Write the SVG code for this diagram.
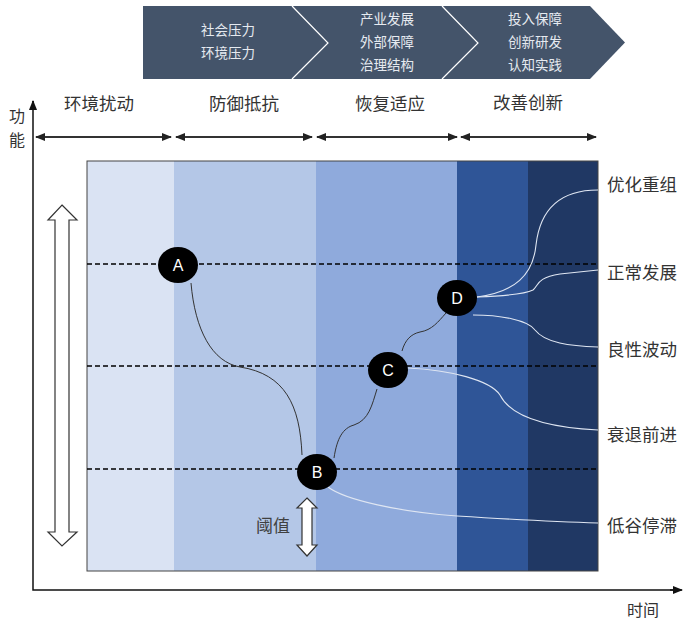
<svg xmlns="http://www.w3.org/2000/svg" width="687" height="621" viewBox="0 0 687 621">
<style>
.cjk{font-family:"Noto Sans CJK SC","Noto Sans",sans-serif}
.ban{fill:#e6eaf0;font-size:13.5px;text-anchor:middle}
.ph{fill:#333;font-size:17.5px;text-anchor:middle}
.rl{fill:#333;font-size:17.5px}
.dash{stroke:#000;stroke-width:1.3;stroke-dasharray:5 3;fill:none}
.bk{stroke:#333;stroke-width:1;fill:none}
.wh{stroke:#dfe6f2;stroke-width:1.1;fill:none}
.node ellipse{fill:#000}
.node text{fill:#fff;font-family:"Liberation Sans",Arial,sans-serif;font-size:16px;text-anchor:middle}
.seg{stroke:#333;stroke-width:2;fill:none}
</style>
<defs>
<marker id="ah" viewBox="0 0 10 10" refX="9" refY="5" markerWidth="5" markerHeight="5" orient="auto-start-reverse"><path d="M0,1 L10,5 L0,9 z" fill="#222"/></marker>
<marker id="ax" viewBox="0 0 10 10" refX="9" refY="5" markerWidth="7" markerHeight="7" orient="auto"><path d="M0,1 L10,5 L0,9 z" fill="#111"/></marker>
</defs>
<rect width="687" height="621" fill="#fff"/>
<g id="banner">
<polygon points="143,6 590,6 625,42.5 590,79 143,79" fill="#44546a"/>
<polyline points="292,6 328,43 292,79" fill="none" stroke="#fff" stroke-width="1.2"/>
<polyline points="442,6 478,43 442,79" fill="none" stroke="#fff" stroke-width="1.2"/>
<text class="cjk ban" x="228" y="35">社会压力</text>
<text class="cjk ban" x="228" y="58">环境压力</text>
<text class="cjk ban" x="387" y="24">产业发展</text>
<text class="cjk ban" x="387" y="47">外部保障</text>
<text class="cjk ban" x="387" y="70">治理结构</text>
<text class="cjk ban" x="535" y="24">投入保障</text>
<text class="cjk ban" x="535" y="47">创新研发</text>
<text class="cjk ban" x="535" y="70">认知实践</text>
</g>
<g id="phases">
<text class="cjk ph" x="99" y="110">环境扰动</text>
<text class="cjk ph" x="244" y="110">防御抵抗</text>
<text class="cjk ph" x="390" y="110">恢复适应</text>
<text class="cjk ph" x="528" y="109">改善创新</text>
<line class="seg" x1="36" y1="137" x2="171" y2="137" marker-start="url(#ah)" marker-end="url(#ah)"/>
<line class="seg" x1="176" y1="137" x2="312" y2="137" marker-start="url(#ah)" marker-end="url(#ah)"/>
<line class="seg" x1="317" y1="137" x2="457" y2="137" marker-start="url(#ah)" marker-end="url(#ah)"/>
<line class="seg" x1="461" y1="137" x2="596" y2="137" marker-start="url(#ah)" marker-end="url(#ah)"/>
</g>
<g id="plot">
<rect x="87" y="161" width="87" height="410" fill="#dae3f3"/>
<rect x="174" y="161" width="142" height="410" fill="#b4c7e7"/>
<rect x="316" y="161" width="141" height="410" fill="#8faadc"/>
<rect x="457" y="161" width="71" height="410" fill="#2f5597"/>
<rect x="528" y="161" width="70" height="410" fill="#203864"/>
<rect x="87" y="161" width="511" height="410" fill="none" stroke="#444" stroke-width="1"/>
<line class="dash" x1="87" y1="264" x2="598" y2="264"/>
<line class="dash" x1="87" y1="366" x2="598" y2="366"/>
<line class="dash" x1="87" y1="469" x2="598" y2="469"/>
</g>
<g id="axes">
<polyline points="33,101 33,590 681,590" fill="none" stroke="#111" stroke-width="1.5"/>
<line x1="33" y1="110" x2="33" y2="101" stroke="#111" stroke-width="1.5" marker-end="url(#ax)"/>
<line x1="670" y1="590" x2="682" y2="590" stroke="#111" stroke-width="1.5" marker-end="url(#ax)"/>
<text class="cjk" x="9" y="122" font-size="16" fill="#333">功</text>
<text class="cjk" x="9" y="146" font-size="16" fill="#333">能</text>
<text class="cjk" x="627" y="616" font-size="16" fill="#333">时间</text>
</g>
<g id="big-arrow">
<polygon points="62,205 77,220 69,220 69,532 77,532 62,546 48,532 55,532 55,220 48,220" fill="#fff" stroke="#333" stroke-width="1.2"/>
</g>
<g id="threshold">
<polygon points="307,498 317,508 312,508 312,545 317,545 307,556 297,545 302,545 302,508 297,508" fill="#fff" stroke="#333" stroke-width="1.2"/>
<text class="cjk" x="256" y="532" font-size="17" fill="#404040">阈值</text>
</g>
<g id="connectors">
<path class="bk" d="M191,283 C195,330 212,362 240,367 C285,374 300,405 302,455"/>
<path class="bk" d="M334,458 C337,438 343,428 354,425 C369,420 372,405 377,389"/>
<path class="bk" d="M402,351 C405,340 411,334 420,332 C432,330 438,322 446,313"/>
<path class="wh" d="M477,297 C515,292 533,275 536,245 C540,210 560,190 598,190"/>
<path class="wh" d="M477,297 C505,296 525,294 533,290 C539,285 536,278 560,274 L598,270"/>
<path class="wh" d="M473,315 C500,315 528,320 535,330 C545,343 570,346 598,347"/>
<path class="wh" d="M408,368 C450,370 490,380 500,395 C510,415 540,427 598,430"/>
<path class="wh" d="M328,487 C345,500 400,512 457,516 C520,520 560,522 598,523"/>
</g>
<g id="node-A" class="node"><ellipse cx="178" cy="265" rx="20" ry="18"/><text x="178" y="271">A</text></g>
<g id="node-B" class="node"><ellipse cx="317" cy="472" rx="20" ry="18"/><text x="317" y="478">B</text></g>
<g id="node-C" class="node"><ellipse cx="388" cy="370" rx="20" ry="18"/><text x="388" y="376">C</text></g>
<g id="node-D" class="node"><ellipse cx="457" cy="298" rx="20" ry="18"/><text x="457" y="304">D</text></g>
<g id="labels">
<text class="cjk rl" x="607" y="191">优化重组</text>
<text class="cjk rl" x="607" y="279">正常发展</text>
<text class="cjk rl" x="607" y="356">良性波动</text>
<text class="cjk rl" x="607" y="441">衰退前进</text>
<text class="cjk rl" x="607" y="532">低谷停滞</text>
</g>
</svg>
